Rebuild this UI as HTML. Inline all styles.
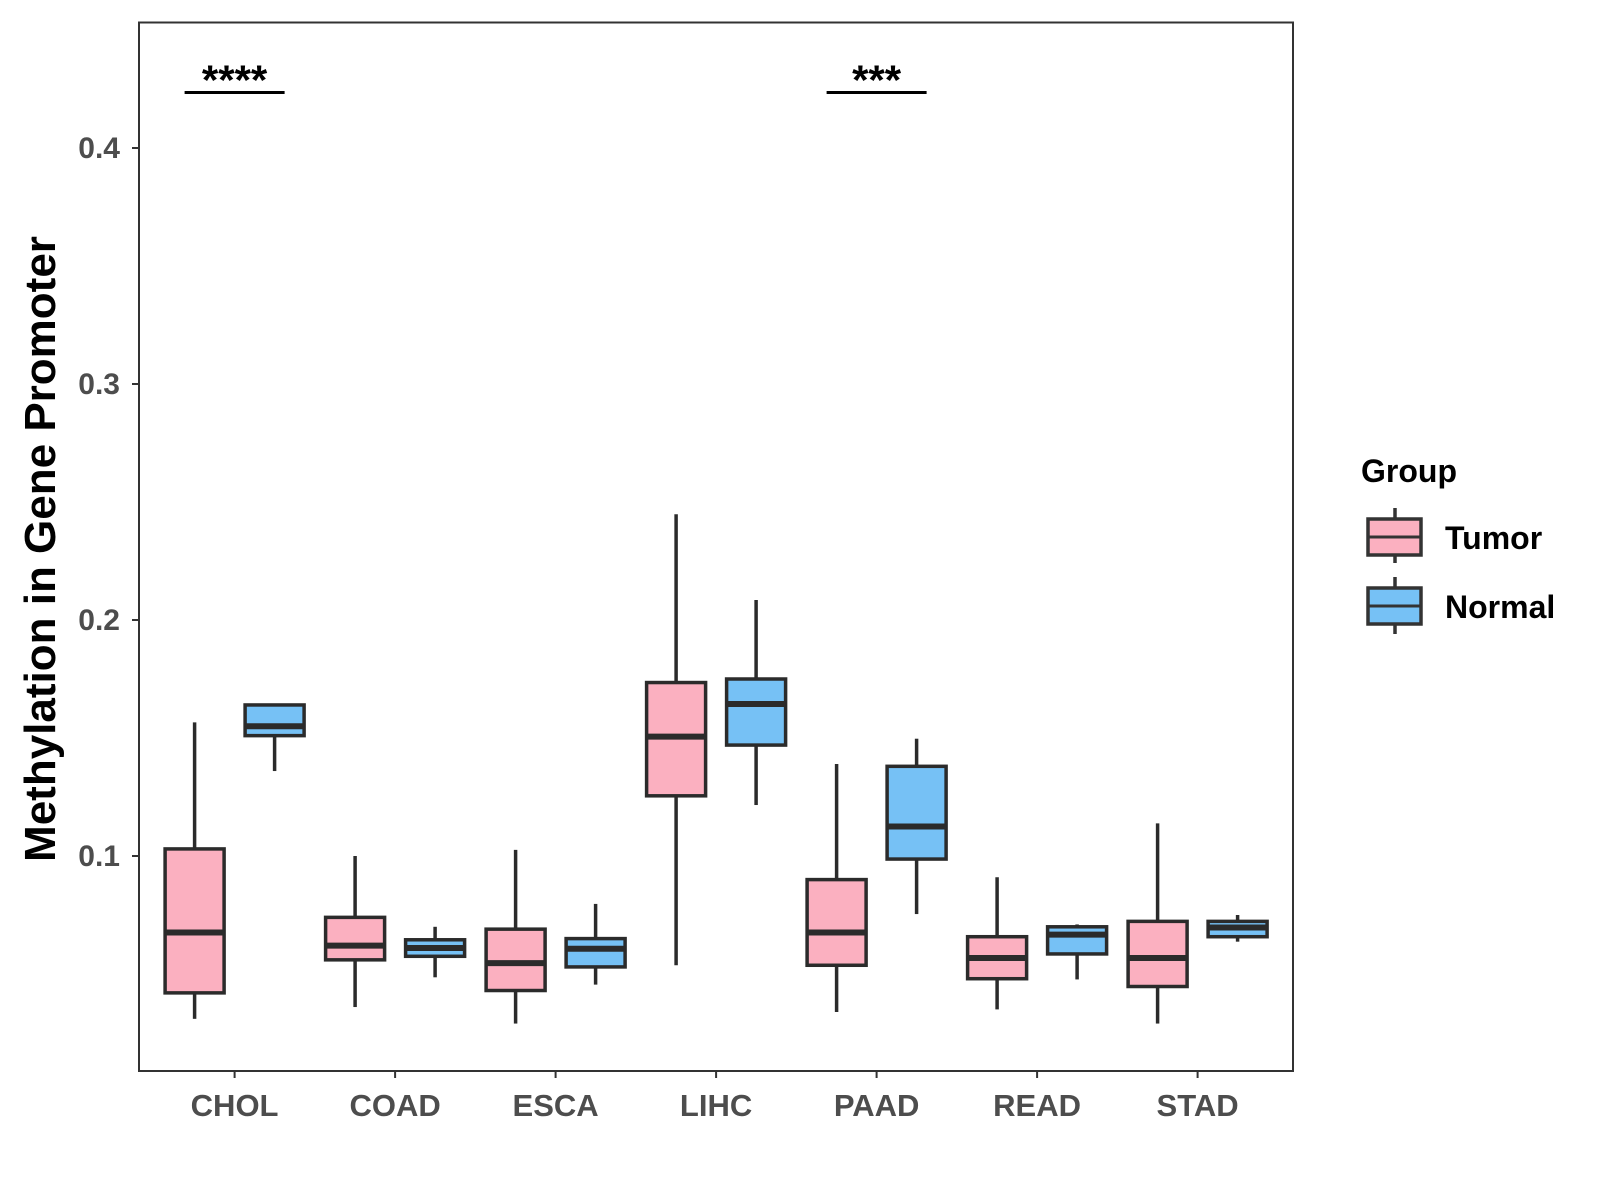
<!DOCTYPE html>
<html><head><meta charset="utf-8"><style>
html,body{margin:0;padding:0;background:#fff;}
svg{display:block;font-family:"Liberation Sans",Arial,sans-serif;}
</style></head><body>
<svg id="chart" width="1600" height="1200" viewBox="0 0 1600 1200">
<rect x="139" y="22.5" width="1154" height="1048.5" fill="#fff" stroke="#333" stroke-width="2"/>
<g id="marks"></g>
<text transform="translate(55,549) rotate(-90)" text-anchor="middle" font-size="44" font-weight="bold" fill="#000">Methylation in Gene Promoter</text>
<text x="1361" y="482" font-size="32" font-weight="bold" fill="#000">Group</text>
<g>
<line x1="1395" y1="508" x2="1395" y2="563" stroke="#333" stroke-width="3.5"/>
<rect x="1368" y="519" width="53" height="36" fill="#FBB0C0" stroke="#333" stroke-width="3.5"/>
<line x1="1368" y1="537" x2="1421" y2="537" stroke="#333" stroke-width="3"/>
<text x="1445" y="549" font-size="32" font-weight="bold" fill="#000">Tumor</text>
</g>
<g>
<line x1="1395" y1="577" x2="1395" y2="634" stroke="#333" stroke-width="3.5"/>
<rect x="1368" y="588" width="53" height="36" fill="#76C1F5" stroke="#333" stroke-width="3.5"/>
<line x1="1368" y1="606" x2="1421" y2="606" stroke="#333" stroke-width="3"/>
<text x="1445" y="618" font-size="32" font-weight="bold" fill="#000">Normal</text>
</g>
</svg>
<script>
const categories = ["CHOL","COAD","ESCA","LIHC","PAAD","READ","STAD"];
const tumorStats = [
 [0.031,0.042,0.0676,0.103,0.1566],
 [0.036,0.056,0.062,0.074,0.100],
 [0.029,0.043,0.0546,0.069,0.1026],
 [0.0537,0.1255,0.1506,0.1735,0.2448],
 [0.0339,0.0537,0.0676,0.090,0.139],
 [0.035,0.048,0.0568,0.0658,0.091],
 [0.029,0.0447,0.0568,0.0723,0.1138]
];
const normalStats = [
 [0.136,0.151,0.155,0.164,0.164],
 [0.0486,0.0575,0.061,0.0645,0.070],
 [0.0455,0.053,0.0607,0.065,0.0797],
 [0.1216,0.147,0.1644,0.175,0.2085],
 [0.0754,0.0987,0.1125,0.138,0.1497],
 [0.0477,0.0585,0.0667,0.070,0.071],
 [0.0637,0.0658,0.0697,0.0723,0.075]
];
const yTicks = [0.1,0.2,0.3,0.4];
const sigCategories = ["CHOL","PAAD"];
const sigLabels = ["****","***"];
const sigLevel = [0.4235,0.4235];

const NS="http://www.w3.org/2000/svg";
const g=document.getElementById('marks');
const yS=v=>856-(v-0.1)*2360;
const xS=i=>234.6+i*160.5;
function mk(t,a,p){const e=document.createElementNS(NS,t);for(const k in a)e.setAttribute(k,a[k]);(p||g).appendChild(e);return e;}

yTicks.forEach(t=>{
 const y=yS(t);
 const l=mk('line',{x1:132,x2:139,y1:y,y2:y,stroke:'#333','stroke-width':2});
 
 
 const tx=mk('text',{x:120,y:y+10,'text-anchor':'end','font-size':30,'font-weight':'bold',fill:'#4d4d4d'});
 tx.textContent=t.toFixed(1);
 
 
});
categories.forEach((c,i)=>{
 const x=xS(i);
 const l=mk('line',{x1:x,x2:x,y1:1071,y2:1078,stroke:'#333','stroke-width':2});
 
 
 const tx=mk('text',{x:x,y:1116,'text-anchor':'middle','font-size':31,'font-weight':'bold',fill:'#4d4d4d'});
 tx.textContent=c;
 
 
});
function box(st,cx,fill,name){
 const grp=mk('g',{});
 
 
 const w=59;
 mk('line',{x1:cx,x2:cx,y1:yS(st[0]),y2:yS(st[1]),stroke:'#2b2b2b','stroke-width':3.5},grp);
 mk('line',{x1:cx,x2:cx,y1:yS(st[3]),y2:yS(st[4]),stroke:'#2b2b2b','stroke-width':3.5},grp);
 mk('rect',{x:cx-w/2,y:yS(st[3]),width:w,height:yS(st[1])-yS(st[3]),fill:fill,stroke:'#2b2b2b','stroke-width':3.5},grp);
 mk('line',{x1:cx-w/2,x2:cx+w/2,y1:yS(st[2]),y2:yS(st[2]),stroke:'#2b2b2b','stroke-width':6},grp);
}
categories.forEach((c,i)=>{
 box(tumorStats[i],xS(i)-40,'#FBB0C0','box-tumor-'+c.toLowerCase());
 box(normalStats[i],xS(i)+40,'#76C1F5','box-normal-'+c.toLowerCase());
});
sigCategories.forEach((c,k)=>{
 const i=categories.indexOf(c);const x=xS(i);const y=yS(sigLevel[k]);
 const l=mk('line',{x1:x-50,x2:x+50,y1:y,y2:y,stroke:'#000','stroke-width':3});
 
 
 const tx=mk('text',{x:x,y:y+2,'text-anchor':'middle','font-size':42,'font-weight':'bold',fill:'#000'});
 tx.textContent=sigLabels[k];
 
 
});
</script>
</body></html>
